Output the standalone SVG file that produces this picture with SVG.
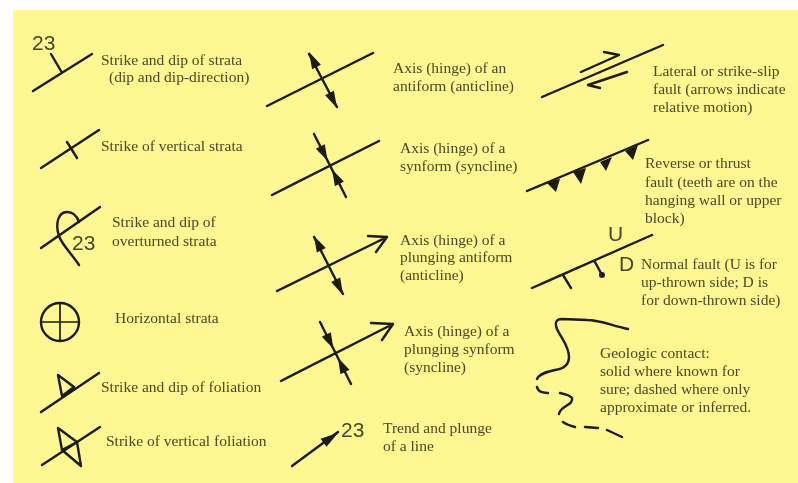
<svg xmlns="http://www.w3.org/2000/svg" width="798" height="483" viewBox="0 0 798 483">
<style>
.l{fill:none;stroke:#1c1a0c;stroke-width:2.4;stroke-linecap:round;stroke-linejoin:round}
.t{stroke-width:1.7}
.f{fill:#1c1a0c;stroke:none}
text{font-family:"Liberation Serif","Times New Roman",serif;font-size:15.5px;fill:#4c4824}
text:not(.n){transform:translateY(1px)}
.n{font-family:"Liberation Sans",Arial,sans-serif;font-size:21px;fill:#4a472a}
</style>
<defs>
<filter id="b" x="-5%" y="-5%" width="110%" height="110%"><feGaussianBlur stdDeviation="0.6"/></filter>
</defs>
<rect width="798" height="483" fill="#fff"/>
<rect x="13" y="10" width="785" height="473" fill="#fef792"/>
<g filter="url(#b)">
<g id="connectors">
<path id="c1" class="l" d="M33 91L92 54M61 71L51 54"/>
<path id="c2" class="l" d="M41 168L99 130M67 142L77 158"/>
<path id="c3" class="l" d="M41 248L100 207M79 265C72 254 62 245 59 236C55 224 58 212 67 212C73 212 77 216 79 222"/>
<path id="c4" class="l t" d="M41 322H79M60 303V341"/>
<path id="c5" class="l" d="M41 412L99 373M58 375L62 396L74 387Z"/>
<path id="c6" class="l" d="M42 465L100 427M58 428L62 450L77 442ZM62 450L81 466L77 442"/>
<path id="c7" class="l" d="M267 106L373 53M309 54L337 107"/>
<path id="c8" class="l" d="M272 195L379 141M314 134L346 197"/>
<path id="c9" class="l" d="M277 291L387 237M368 236L387 237L376 252M314 237L343 294"/>
<path id="c10" class="l" d="M281 381L393 324M371 323L393 324L382 340M320 322L351 384"/>
<path id="c11" class="l" d="M292 466L338 432"/>
<path id="c12" class="l" d="M542 97L663 45M581 72L619 55L604 52M627 72L588 85L600 88"/>
<path id="c13" class="l" d="M527 191L648 140"/>
<path id="c14" class="l" d="M532 288L652 235M563 275L571 288M595 262L602 275"/>
<path id="c15" class="l" d="M628 329C610 325 600 320 587 320L562 319C555 319 555 324 557 329C561 338 569 346 569 357C569 366 562 369 555 370C546 372 539 374 537 379"/>
<path id="c16" class="l" d="M537 387C538 392 542 393 548 393M560 393C565 394 570 395 572 398C573 404 566 405 562 409C560 411 559 412 559 414M563 422C567 425 571 426 575 427M585 427L598 428M607 430L622 437"/>
<path class="f" d="M309 52L320.9 64.7L312.1 69.3ZM337 108L333.9 90.7L325.1 95.3ZM327.6 160.7L324.8 144.2L315.8 148.8ZM332 169.6L343.9 181.6L334.9 186.2ZM314 236L325.8 248L316.8 252.6ZM343 295L340.2 277.4L331.2 282ZM333.4 348.8L330.8 332.3L321.8 336.7ZM337.9 357.8L349.5 369.8L340.5 374.2ZM338 433L326.5 446.7L320.5 438.7ZM546 182L560 179L556 192ZM573 172L586 168L581 184ZM600 162L612 157L606 171ZM625 151L638 145L633 160Z"/>
<circle cx="602" cy="275" r="3" class="f"/>
</g>
<g id="n1"><text class="n" x="32" y="50">23</text><text x="101" y="64">Strike and dip of strata</text><text x="109" y="81">(dip and dip-direction)</text></g>
<g id="n2"><text x="101" y="150">Strike of vertical strata</text></g>
<g id="n3"><text class="n" x="72" y="250">23</text><text x="112" y="226">Strike and dip of</text><text x="112" y="245">overturned strata</text></g>
<g id="n4"><circle cx="60" cy="322" r="19" class="l"/><text x="115" y="322">Horizontal strata</text></g>
<g id="n5"><text x="101" y="391">Strike and dip of foliation</text></g>
<g id="n6"><text x="106" y="445">Strike of vertical foliation</text></g>
<g id="n7"><text x="393" y="72">Axis (hinge) of an</text><text x="393" y="90">antiform (anticline)</text></g>
<g id="n8"><text x="400" y="152">Axis (hinge) of a</text><text x="400" y="170">synform (syncline)</text></g>
<g id="n9"><text x="400" y="244">Axis (hinge) of a</text><text x="400" y="261">plunging antiform</text><text x="400" y="279">(anticline)</text></g>
<g id="n10"><text x="404" y="335">Axis (hinge) of a</text><text x="404" y="353">plunging synform</text><text x="404" y="371">(syncline)</text></g>
<g id="n11"><text class="n" x="341" y="437">23</text><text x="383" y="432">Trend and plunge</text><text x="383" y="450">of a line</text></g>
<g id="n12"><text x="653" y="75">Lateral or strike-slip</text><text x="653" y="93">fault (arrows indicate</text><text x="653" y="111">relative motion)</text></g>
<g id="n13"><text x="645" y="167">Reverse or thrust</text><text x="645" y="186">fault (teeth are on the</text><text x="645" y="204">hanging wall or upper</text><text x="645" y="222">block)</text></g>
<g id="n14"><text class="n" x="608" y="241">U</text><text class="n" x="619" y="271">D</text><text x="641" y="268">Normal fault (U is for</text><text x="641" y="286">up-thrown side; D is</text><text x="641" y="304">for down-thrown side)</text></g>
<g id="n15"><text x="600" y="357">Geologic contact:</text><text x="600" y="375">solid where known for</text><text x="600" y="393">sure; dashed where only</text><text x="600" y="411">approximate or inferred.</text></g>
</g>
</svg>
